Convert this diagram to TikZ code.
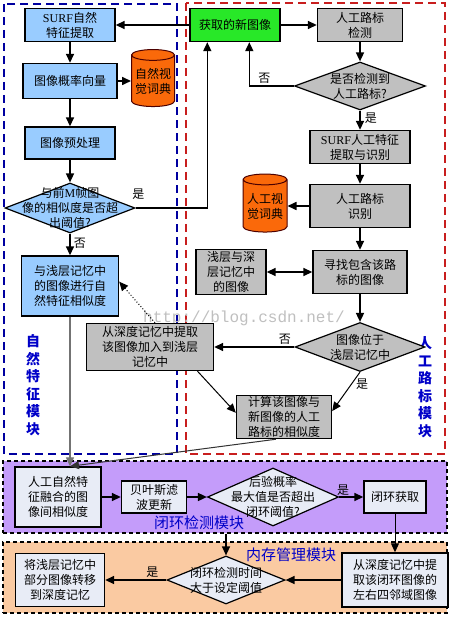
\documentclass[tikz,border=0pt]{standalone}
\usepackage{fontspec}
\setmainfont{Noto Sans CJK SC}
\newfontfamily\latinrm{Liberation Serif}
\newfontfamily\wmfont{Liberation Mono}
\usetikzlibrary{shapes.geometric, arrows.meta, positioning}
\definecolor{natblue}{RGB}{153, 204, 255}
\definecolor{lmgray}{RGB}{192, 192, 192}
\definecolor{newgreen}{RGB}{40, 232, 40}
\definecolor{dictorange}{RGB}{250, 105, 10}
\definecolor{loopviolet}{RGB}{196, 156, 250}
\definecolor{mempeach}{RGB}{250, 202, 162}
\definecolor{pale}{RGB}{232, 236, 246}
\definecolor{regionblue}{RGB}{0, 0, 160}
\definecolor{regionred}{RGB}{200, 30, 30}
\definecolor{labelblue}{RGB}{0, 0, 200}

\begin{document}
\begin{tikzpicture}[
    x=1pt, y=-1pt, >={Triangle[length=9pt, width=8pt]},
    box/.style={rectangle, draw=black, line width=1.4pt, fill=natblue, inner sep=1pt, align=center, font=\fontsize{12}{15}\selectfont},
    lmbox/.style={box, fill=lmgray},
    loopbox/.style={box, fill=pale},
    decision/.style={diamond, draw=black, line width=1.2pt, fill=natblue, inner sep=0pt},
    dtext/.style={font=\fontsize{12}{15}\selectfont, align=center, inner sep=0pt},
    dict/.style={cylinder, shape border rotate=90, aspect=0.3, draw=black!70!red, line width=1pt, fill=dictorange, inner sep=0pt, align=center, font=\fontsize{12}{15}\selectfont},
    region/.style={draw, line width=1.5pt, dash pattern=on 8pt off 5pt},
    module/.style={rectangle, draw=black, line width=1.4pt, dash pattern=on 4pt off 3pt, inner sep=0pt},
    modlabel/.style={text=labelblue, font=\fontsize{15}{17}\selectfont},
    line/.style={draw, ->, line width=1.6pt},
    thinline/.style={draw, ->, line width=1pt},
    branch/.style={font=\fontsize{12}{14}\selectfont, inner sep=1pt}
  ]
    \useasboundingbox (0,0) rectangle (469,617);

    % module frames
    \draw[region, regionblue] (4,4) rectangle (177,454);
    \draw[region, regionred] (186,3) rectangle (445,454);
    \node (loopreg) [module, fill=loopviolet, minimum width=444, minimum height=72] at (225,497) {};
    \node (memreg) [module, fill=mempeach, minimum width=444, minimum height=71] at (225,577.5) {};

    \node (natlabel) [modlabel, font=\fontsize{14}{17.5}\selectfont\bfseries, align=center] at (33,385) {自\\然\\特\\征\\模\\块};
    \node (lmlabel) [modlabel, font=\fontsize{14}{17.5}\selectfont\bfseries, align=center] at (425,387) {人\\工\\路\\标\\模\\块};
    \node (looplabel) [modlabel] at (199,523) {闭环检测模块};
    \node (memlabel) [modlabel] at (291,555) {内存管理模块};
    \node (watermark) [text=black!25, font=\wmfont\fontsize{16}{16}\selectfont] at (244,318) {http://blog.csdn.net/};

    % natural feature module
    \node (surf) [box, minimum width=90, minimum height=33] at (70,25) {{\latinrm SURF}自然\\特征提取};
    \node (prob) [box, minimum width=94, minimum height=35] at (70,81) {图像概率向量};
    \node (natdict) [dict, minimum width=43, minimum height=57] at (153,81) {自然视\\觉词典};
    \node (pre) [box, minimum width=90, minimum height=32] at (70,143) {图像预处理};
    \node (simM) [decision, minimum width=130, minimum height=50] at (70,208) {};
    \node (simMtext) [dtext] at (simM) {与前{\latinrm M}帧图\\像的相似度是否超\\出阈值?};
    \node (natsim) [box, minimum width=97, minimum height=60] at (70,286) {与浅层记忆中\\的图像进行自\\然特征相似度};

    % artificial landmark module
    \node (newimg) [box, fill=newgreen, minimum width=90, minimum height=33] at (235,25) {获取的新图像};
    \node (lmdet) [lmbox, minimum width=85, minimum height=33] at (360,25) {人工路标\\检测};
    \node (lmq) [decision, fill=lmgray, minimum width=131, minimum height=48] at (360,86) {};
    \node (lmqtext) [dtext] at (lmq) {是否检测到\\人工路标?};
    \node (surflm) [lmbox, minimum width=100, minimum height=33] at (360,147) {{\latinrm SURF}人工特征\\提取与识别};
    \node (lmrec) [lmbox, minimum width=100, minimum height=43] at (360,206) {人工路标\\识别};
    \node (artdict) [dict, minimum width=44, minimum height=58] at (265,206) {人工视\\觉词典};
    \node (find) [lmbox, minimum width=94, minimum height=43] at (360,272) {寻找包含该路\\标的图像};
    \node (memimg) [lmbox, minimum width=70, minimum height=45] at (231,272) {浅层与深\\层记忆中\\的图像};
    \node (inshallow) [decision, fill=lmgray, minimum width=130, minimum height=49] at (360,347) {};
    \node (inshallowtext) [dtext] at (inshallow) {图像位于\\浅层记忆中};
    \node (fetch) [lmbox, minimum width=127, minimum height=47] at (150,347) {从深度记忆中提取\\该图像加入到浅层\\记忆中};
    \node (lmsim) [lmbox, minimum width=95, minimum height=42] at (284,417) {计算该图像与\\新图像的人工\\路标的相似度};

    % loop closure detection module
    \node (fuse) [loopbox, minimum width=86, minimum height=60] at (58,497) {人工自然特\\征融合的图\\像间相似度};
    \node (bayes) [loopbox, minimum width=65, minimum height=32] at (154,497) {贝叶斯滤\\波更新};
    \node (post) [decision, fill=pale, minimum width=131, minimum height=58] at (273,497) {};
    \node (posttext) [dtext] at (post) {后验概率\\最大值是否超出\\闭环阈值?};
    \node (getloop) [loopbox, minimum width=62, minimum height=32] at (395,497) {闭环获取};

    % memory management module
    \node (transfer) [loopbox, minimum width=89, minimum height=53] at (60,580) {将浅层记忆中\\部分图像转移\\到深度记忆};
    \node (timeq) [decision, fill=pale, minimum width=118, minimum height=48] at (226,580) {};
    \node (timeqtext) [dtext] at (timeq) {闭环检测时间\\大于设定阈值};
    \node (nbr) [loopbox, minimum width=106, minimum height=54] at (395,580) {从深度记忆中提\\取该闭环图像的\\左右四邻域图像};

    \draw[line] (newimg) -- (surf);
    \draw[line] (surf) -- (prob);
    \draw[line] (prob) -- (natdict);
    \draw[line] (prob) -- (pre);
    \draw[line] (pre) -- (simM);
    \draw[line] (simM.east) -| ([xshift=18pt]newimg.south west) node[branch, pos=0.02, above=7pt] {是};
    \draw[line] (simM) -- (natsim) node[branch, pos=0.45, right=2pt] {否};

    \draw[line] (newimg) -- (lmdet);
    \draw[line] (lmdet) -- (lmq);
    \draw[line] (lmq.west) -| ([xshift=60pt]newimg.south west) node[branch, pos=0.33, above=1pt] {否};
    \draw[line] (lmq) -- (surflm) node[branch, pos=0.4, right=3pt] {是};
    \draw[line] (surflm) -- (lmrec);
    \draw[line] (lmrec) -- (artdict);
    \draw[line] (lmrec) -- (find);
    \draw[line, <->] (memimg) -- (find);
    \draw[line] (find) -- (inshallow);
    \draw[line] (inshallow) -- (fetch) node[branch, pos=0.12, above=1pt] {否};
    \draw[thinline] (inshallow.south) -- (lmsim.7) node[branch, pos=0.3, right=3pt] {是};
    \draw[thinline] (fetch.-27) -- (lmsim.175);
    \draw[thinline, dotted] ([xshift=5pt]fetch.north) -- (natsim.5);

    \draw[thinline, black!55, line width=1.3pt] (natsim.south) -- (natsim.south |- fuse.north);
    \draw[thinline, black!80] ([xshift=40pt]lmsim.south west) -- (natsim.south |- fuse.north);
    \draw[line] (fuse) -- (bayes);
    \draw[line] (bayes) -- (post);
    \draw[line] (post) -- (getloop) node[branch, pos=0.17, above=0pt] {是};
    \draw[thinline, line width=1.3pt] (loopreg.south -| timeq.north) -- (timeq.north);
    \draw[thinline] (getloop) -- (nbr);
    \draw[thinline, line width=1.3pt] (nbr) -- (timeq);
    \draw[line] (timeq) -- (transfer) node[branch, pos=0.23, above=1pt] {是};
  \end{tikzpicture}
\end{document}
